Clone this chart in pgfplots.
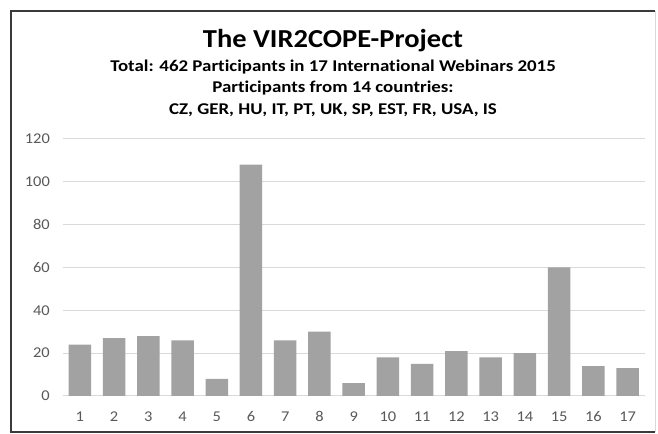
\documentclass[border=0pt]{standalone}
\usepackage{fontspec}
\setmainfont{Carlito}[Ligatures=NoCommon]
\usepackage{pgfplots}
\pgfplotsset{compat=1.18}
\definecolor{bargray}{HTML}{A2A2A2}
\definecolor{gridgray}{HTML}{D9D9D9}
\definecolor{ticktext}{HTML}{595959}
\definecolor{framegray}{HTML}{3A3A3A}
\begin{document}
\begin{tikzpicture}[x=1bp,y=1bp]
\useasboundingbox (-62.7,-38) rectangle (595.3,396);
\fill[white] (-62.7,-38) rectangle (595.3,396);
\begin{axis}[
  at={(0,0)}, anchor=south west,
  scale only axis, width=582bp, height=257bp,
  xmin=0.5, xmax=17.5, ymin=0, ymax=120,
  xtick={1,...,17}, ytick={0,20,...,120},
  axis line style={draw=none},
  major tick length=0pt,
  ymajorgrids, grid style={gridgray, line width=1pt},
  /pgf/number format/assume math mode=true,
  tick label style={font=\fontsize{15}{16}\selectfont, color=ticktext, xscale=1.1},
  xticklabel shift=12bp, yticklabel shift=9bp,
  ybar, bar width=22.5bp,
]
\addplot[fill=bargray, draw=none] coordinates {
 (1,24) (2,27) (3,28) (4,26) (5,8) (6,108) (7,26) (8,30) (9,6)
 (10,18) (11,15) (12,21) (13,18) (14,20) (15,60) (16,14) (17,13)};
\end{axis}
\node[anchor=base, xscale=1.1, font=\fontsize{26}{28}\selectfont\bfseries] at (270.3,348) {The VIR2COPE-Project};
\node[anchor=base, xscale=1.15, font=\fontsize{16.5}{18}\selectfont\bfseries] at (270.3,324.3) {Total: 462 Participants in 17 International Webinars 2015};
\node[anchor=base, xscale=1.15, font=\fontsize{16.5}{18}\selectfont\bfseries] at (270.3,303.5) {Participants from 14 countries:};
\node[anchor=base, xscale=1.15, font=\fontsize{16.5}{18}\selectfont\bfseries] at (270.3,281.5) {CZ, GER, HU, IT, PT, UK, SP, EST, FR, USA, IS};
\draw[framegray, line width=2bp] (592.3,385) -- (-51.7,385) -- (-51.7,-36) -- (592.3,-36);
\draw[gray!30, line width=1bp] (592.3,385) -- (592.3,-36);
\end{tikzpicture}
\end{document}
